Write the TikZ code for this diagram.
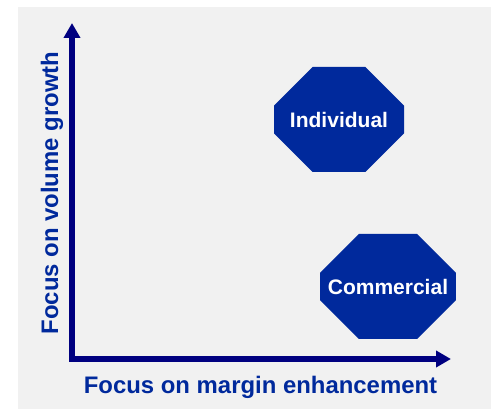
\documentclass[tikz,border=0pt]{standalone}
\usepackage{fontspec}
\setmainfont{Liberation Sans}
\usepackage{xcolor}
\usepackage{tikz}
\usetikzlibrary{arrows.meta,shapes.misc}
\definecolor{bg}{HTML}{F1F1F1}
\definecolor{navy}{HTML}{000080}
\definecolor{royal}{HTML}{00299C}
\tikzset{
  axis/.style={draw=navy, line width=5.5pt, line cap=rect, -{Triangle[length=15pt,width=16pt]}},
  seg/.style={chamfered rectangle, chamfered rectangle xsep=31pt, chamfered rectangle ysep=31pt,
    fill=royal, draw=none, minimum width=130pt, minimum height=105pt, inner sep=0pt,
    text=white, font=\bfseries\fontsize{21}{25}\selectfont},
  axlab/.style={text=royal, font=\bfseries\fontsize{23.9}{28}\selectfont, inner sep=0pt},
}

\begin{document}
\begin{tikzpicture}[x=1pt, y=-1pt]
  \useasboundingbox (0,0) rectangle (491,409);
  \fill[bg] (18,7) rectangle (491,409);
  \coordinate (O) at (72,359);
  \coordinate (ytip) at (72,23);
  \coordinate (xtip) at (451,359);
  \draw[axis] (O) -- (ytip);
  \draw[axis] (O) -- (xtip);
  \node[seg] (indiv) at (339,119.5) {Individual};
  \node[seg] (comm) at (388,286.5) {Commercial};
  \node[axlab] (xlab) at (260.5,387) {Focus on margin enhancement};
  \node[axlab, rotate=90] (ylab) at (52,193) {Focus on volume growth};
\end{tikzpicture}
\end{document}
